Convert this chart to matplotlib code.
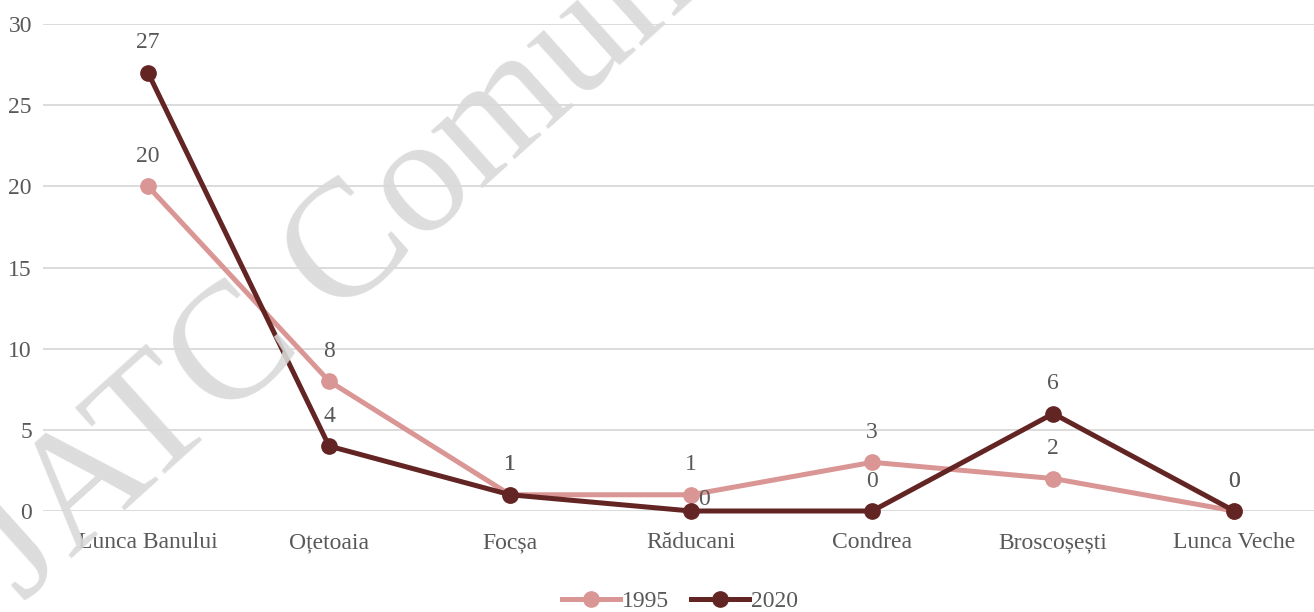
import matplotlib
matplotlib.use("Agg")
import matplotlib.pyplot as plt

categories = ["Lunca Banului", "Oțetoaia", "Focșa", "Răducani", "Condrea", "Broscoșești", "Lunca Veche"]
series_1995 = [20, 8, 1, 1, 3, 2, 0]
series_2020 = [27, 4, 1, 0, 0, 6, 0]
yticks = [0, 5, 10, 15, 20, 25, 30]

C1995 = "#D99694"
C2020 = "#632523"
TXT = "#595959"
GRID = "#D9D9D9"

plt.rcParams["font.family"] = ["Liberation Serif", "DejaVu Serif"]

W, H = 1314, 612
FS = 17
fig = plt.figure(figsize=(W / 100, H / 100), dpi=100)
ax = fig.add_axes([43 / W, 1 - 511 / H, 1 - 43 / W, (511 - 24) / H])

x = list(range(len(categories)))
ax.plot(x, series_1995, color=C1995, lw=3.6, marker="o", ms=11, label="1995", clip_on=False, zorder=3)
ax.plot(x, series_2020, color=C2020, lw=3.6, marker="o", ms=11, label="2020", clip_on=False, zorder=4)

ax.set_ylim(0, 30)
ax.set_xlim(-0.58, 6.44)
ax.set_yticks(yticks)
ax.set_xticks(x)
ax.set_xticklabels(categories)
ax.grid(axis="y", color=GRID, lw=1.3)
ax.set_axisbelow(True)
for s in ax.spines.values():
    s.set_visible(False)
ax.tick_params(axis="both", length=0, labelsize=FS, colors=TXT)
ax.tick_params(axis="x", pad=15)
ax.tick_params(axis="y", pad=8)

# data labels
for i, v in enumerate(series_1995):
    ax.annotate(str(v), (i, v), xytext=(0, 21.5), textcoords="offset points",
                ha="center", va="center", fontsize=FS, color=TXT, zorder=5)
for i, v in enumerate(series_2020):
    if i == 3:
        off = (9, 8.5)
    else:
        off = (0, 21.5)
    ax.annotate(str(v), (i, v), xytext=off, textcoords="offset points",
                ha="center", va="center", fontsize=FS, color=TXT, zorder=5)

leg = fig.legend(loc="center", bbox_to_anchor=(680 / W, 1 - 601 / H), ncol=2, frameon=False,
                 fontsize=FS, handlelength=2.45, handletextpad=0.1, columnspacing=0.9,
                 labelcolor=TXT)

# watermark
fig.text(23 / W, 1 - 603 / H, "JATC Comunicare", fontsize=120, color="#D9D9D9",
         rotation=42, rotation_mode="anchor", ha="left", va="baseline", zorder=0, alpha=0.9)

fig.savefig("out.png", dpi=100)
